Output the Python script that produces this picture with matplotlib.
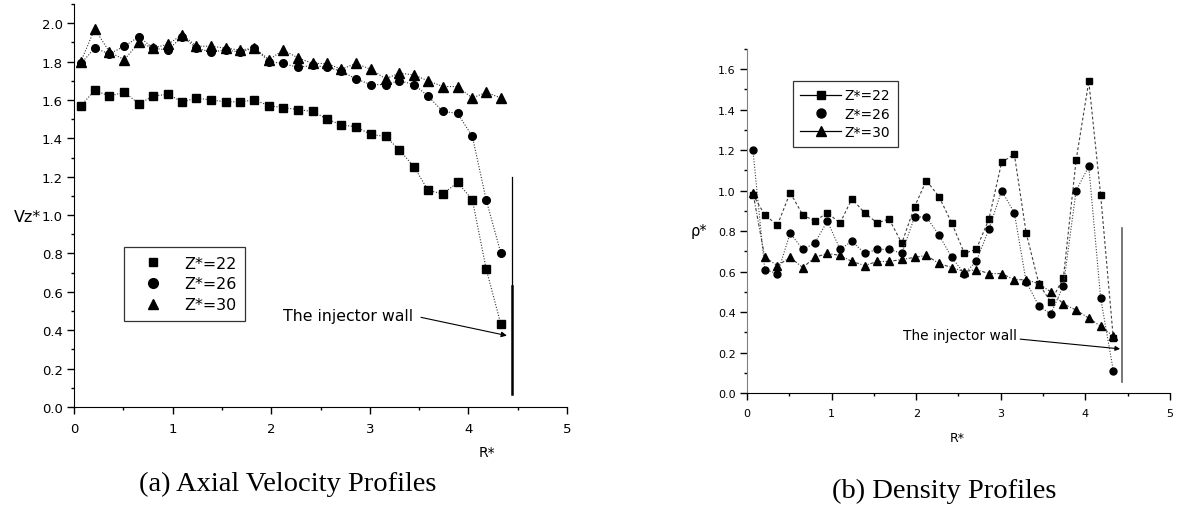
import matplotlib
matplotlib.use("Agg")
from matplotlib import pyplot as plt
from matplotlib.lines import Line2D
from matplotlib.ticker import MultipleLocator

# radial positions (shared by both panels)
r = [0.07, 0.21, 0.36, 0.51, 0.66, 0.80, 0.95, 1.10, 1.24, 1.39,
     1.54, 1.68, 1.83, 1.98, 2.12, 2.27, 2.42, 2.57, 2.71, 2.86,
     3.01, 3.16, 3.30, 3.45, 3.59, 3.74, 3.89, 4.04, 4.18, 4.33]

# (a) axial velocity
vz22 = [1.57, 1.65, 1.62, 1.64, 1.58, 1.62, 1.63, 1.59, 1.61, 1.60,
        1.59, 1.59, 1.60, 1.57, 1.56, 1.55, 1.54, 1.50, 1.47, 1.46,
        1.42, 1.41, 1.34, 1.25, 1.13, 1.11, 1.17, 1.08, 0.72, 0.43]
vz26 = [1.79, 1.87, 1.84, 1.88, 1.93, 1.87, 1.86, 1.93, 1.87, 1.85,
        1.86, 1.85, 1.87, 1.80, 1.79, 1.77, 1.78, 1.77, 1.75, 1.71,
        1.68, 1.68, 1.70, 1.68, 1.62, 1.54, 1.53, 1.41, 1.08, 0.80]
vz30 = [1.80, 1.97, 1.85, 1.81, 1.90, 1.87, 1.89, 1.94, 1.88, 1.88,
        1.87, 1.86, 1.87, 1.81, 1.86, 1.82, 1.79, 1.79, 1.76, 1.79,
        1.76, 1.71, 1.74, 1.73, 1.70, 1.67, 1.67, 1.61, 1.64, 1.61]

# (b) density
rho22 = [0.98, 0.88, 0.83, 0.99, 0.88, 0.85, 0.89, 0.84, 0.96, 0.89,
         0.84, 0.86, 0.74, 0.92, 1.05, 0.97, 0.84, 0.69, 0.71, 0.86,
         1.14, 1.18, 0.79, 0.54, 0.45, 0.57, 1.15, 1.54, 0.98, 0.27]
rho26 = [1.20, 0.61, 0.59, 0.79, 0.71, 0.74, 0.85, 0.71, 0.75, 0.69,
         0.71, 0.71, 0.69, 0.87, 0.87, 0.78, 0.67, 0.59, 0.65, 0.81,
         1.00, 0.89, 0.55, 0.43, 0.39, 0.53, 1.00, 1.12, 0.47, 0.11]
rho30 = [0.99, 0.67, 0.63, 0.67, 0.62, 0.67, 0.69, 0.68, 0.65, 0.63,
         0.65, 0.65, 0.66, 0.67, 0.68, 0.64, 0.62, 0.60, 0.61, 0.59,
         0.59, 0.56, 0.56, 0.54, 0.50, 0.44, 0.41, 0.37, 0.33, 0.28]

labels = ["Z*=22", "Z*=26", "Z*=30"]
markers = ["s", "o", "^"]

wall_a = 4.445
wall_b = 4.43

fig = plt.figure(figsize=(11.79, 5.10), dpi=100)


def style_axes(ax, fs):
    for s in ["top", "right"]:
        ax.spines[s].set_visible(False)
    ax.set_xlim(0, 5)
    ax.xaxis.set_major_locator(MultipleLocator(1))
    ax.xaxis.set_minor_locator(MultipleLocator(0.5))
    ax.yaxis.set_major_locator(MultipleLocator(0.2))
    ax.yaxis.set_minor_locator(MultipleLocator(0.1))
    ax.tick_params(which="major", direction="out", length=5, width=1, labelsize=fs, pad=3)
    ax.tick_params(which="minor", direction="out", length=2.5, width=1)
    ax.tick_params(axis="x", which="major", pad=6)
    ax.yaxis.set_major_formatter(matplotlib.ticker.FormatStrFormatter("%.1f"))


# ---------- (a) ----------
ax1 = fig.add_axes([74 / 1179, 1 - 408 / 510, 493 / 1179, 403 / 510])
style_axes(ax1, 9.5)
ax1.set_ylim(0, 2.1)
for y, m, lab, ms in zip([vz22, vz26, vz30], markers, labels, [5.5, 5.5, 6.5]):
    ax1.plot(r, y, linestyle=(0, (1, 1.5)), lw=0.8, color="#333333",
             marker=m, ms=ms, mfc="black", mec="black", label=lab)

ax1.plot([wall_a, wall_a], [0.63, 1.20], color="black", lw=0.9)
ax1.plot([wall_a, wall_a], [0.07, 0.63], color="black", lw=1.8)
ax1.annotate("The injector wall", xy=(4.39, 0.372), xytext=(2.12, 0.475),
             fontsize=11.3, va="center", ha="left",
             arrowprops=dict(arrowstyle="-|>", lw=0.8, color="black",
                             mutation_scale=8, shrinkA=0, shrinkB=0,
                             relpos=(1.06, 0.4)))

h1 = [Line2D([], [], linestyle="none", marker=m, ms=ms, color="black")
      for m, ms in zip(markers, [6, 7, 7.5])]
leg1 = ax1.legend(h1, labels, loc="upper left", bbox_to_anchor=(0.101, 0.397),
                  fontsize=11.4, frameon=True, fancybox=False, borderpad=0.55,
                  labelspacing=0.36, handlelength=2.6, handletextpad=0.65,
                  borderaxespad=0)
leg1.get_frame().set_edgecolor("black")
leg1.get_frame().set_linewidth(0.9)

fig.text(14 / 1179, 1 - 217 / 510, "Vz*", fontsize=11.5, ha="left", va="center")
fig.text(487 / 1179, 1 - 453 / 510, "R*", fontsize=10, ha="center", va="center")
fig.text(288 / 1179, 1 - 484 / 510, "(a) Axial Velocity Profiles",
         family="Liberation Serif", fontsize=20.5, ha="center", va="center")

# ---------- (b) ----------
ax2 = fig.add_axes([747 / 1179, 1 - 394 / 510, 423 / 1179, 344 / 510])
style_axes(ax2, 8)
ax2.spines["left"].set_color("#808080")
ax2.set_ylim(0, 1.7)
styles_b = [(0, (2.5, 2)), (0, (1, 1.5)), (0, (3, 1.5, 1, 1.5))]
for y, m, lab, ls, ms in zip([rho22, rho26, rho30], markers, labels, styles_b, [5, 5, 6]):
    ax2.plot(r, y, linestyle=ls, lw=0.8, color="#404040",
             marker=m, ms=ms, mfc="black", mec="black")

ax2.plot([wall_b, wall_b], [0.053, 0.816], color="#606060", lw=1.2)
ax2.annotate("The injector wall", xy=(4.41, 0.218), xytext=(1.84, 0.287),
             fontsize=9.9, va="center", ha="left",
             arrowprops=dict(arrowstyle="-|>", lw=0.8, color="black",
                             mutation_scale=7, shrinkA=0, shrinkB=0,
                             relpos=(1.03, 0.2)))

h2 = [Line2D([], [], color="black", lw=0.9, marker="s", ms=6),
      Line2D([], [], linestyle="none", marker="o", ms=6.5, color="black"),
      Line2D([], [], color="black", lw=0.9, marker="^", ms=7)]
leg2 = ax2.legend(h2, labels, loc="upper left", bbox_to_anchor=(0.108, 0.908),
                  fontsize=10, frameon=True, fancybox=False, borderpad=0.56,
                  labelspacing=0.3, handlelength=2.95, handletextpad=0.2,
                  borderaxespad=0)
leg2.get_frame().set_edgecolor("black")
leg2.get_frame().set_linewidth(0.9)

fig.text(699 / 1179, 1 - 232 / 510, "ρ*", fontsize=10.5, ha="center", va="center")
fig.text(957 / 1179, 1 - 439 / 510, "R*", fontsize=9, ha="center", va="center")
fig.text(944 / 1179, 1 - 491 / 510, "(b) Density Profiles",
         family="Liberation Serif", fontsize=20.5, ha="center", va="center")

fig.savefig("out.png", dpi=100)
